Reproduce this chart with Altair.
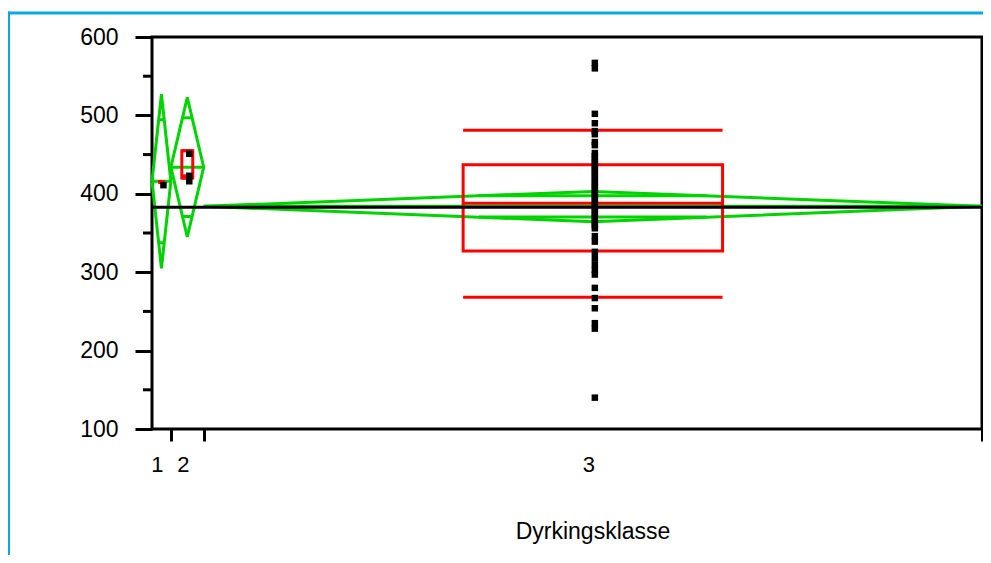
import math
import altair as alt
import pandas as pd
import numpy as np

# ---- data ----
groups = ["1", "2", "3"]
group_widths = [19, 33, 783]          # relative band widths (JMP: proportional to n)
means = [416, 434, 384]
ci_low = [305, 345, 364.5]
ci_high = [527, 523, 403]
q10 = [415, 420, 268]
q25 = [415, 420, 327]
medians = [415, 423, 388]
q75 = [415, 455, 437]
q90 = [415, 455, 481]
grand_mean = 383

g1_values = [411]
g2_values = [451, 423, 416]
g3_values = [567, 560, 502, 490, 480, 476, 466, 462, 452, 448, 444, 440, 436,
             432, 428, 424, 420, 416, 412, 408, 404, 400, 396, 392, 388, 384,
             380, 376, 372, 368, 364, 360, 356, 346, 339, 326, 318, 310, 303,
             297, 280, 267, 254, 235, 228, 140]

y_major = [100, 200, 300, 400, 500, 600]
y_minor = [150, 250, 350, 450, 550]

GREEN = "#00D400"
RED = "#FF0000"
BLUE = "#0AA8E2"
FONT = "Liberation Sans"

W, H = 830, 392
PAD = {"left": 144, "top": 29, "right": 1, "bottom": 126}

# ---- derived tables ----
starts = np.concatenate([[0], np.cumsum(group_widths)[:-1]])
ends = np.cumsum(group_widths)
centers = (starts + ends) / 2
total = float(ends[-1])

diam_rows = []
hline_rows = []
box_rows = []
for i, g in enumerate(groups):
    s, e, c = float(starts[i]), float(ends[i]), float(centers[i])
    m, lo, hi = means[i], ci_low[i], ci_high[i]
    for k, (xx, yy) in enumerate([(s, m), (c, hi), (e, m), (c, lo), (s, m)]):
        diam_rows.append({"g": g, "x": xx, "y": yy, "o": k})
    hline_rows.append({"g": g, "x": s, "x2": e, "y": m})
    half = (e - s) / 2
    frac = 1 - 1 / math.sqrt(2)
    d = (hi - m) / math.sqrt(2)
    for yy in (m + d, m - d):
        hline_rows.append({"g": g, "x": c - half * frac, "x2": c + half * frac, "y": yy})
    bl = s + (e - s) / 3
    br = s + 2 * (e - s) / 3
    box_rows.append({"g": g, "bl": bl, "br": br, "q10": q10[i], "q25": q25[i],
                     "med": medians[i], "q75": q75[i], "q90": q90[i]})

diam = pd.DataFrame(diam_rows)
hlines = pd.DataFrame(hline_rows)
boxes = pd.DataFrame(box_rows)
pts = pd.DataFrame(
    [{"g": "1", "x": float(centers[0]), "v": v} for v in g1_values]
    + [{"g": "2", "x": float(centers[1]), "v": v} for v in g2_values]
    + [{"g": "3", "x": float(centers[2]), "v": v} for v in g3_values]
)
labels = pd.DataFrame({"g": groups, "x": centers})
gm = pd.DataFrame({"x": [0.0], "x2": [total], "y": [grand_mean]})
minor = pd.DataFrame({"y": y_minor})

xs = alt.Scale(domain=[0, total], nice=False, zero=False)
ys = alt.Scale(domain=[100, 600], nice=False, zero=False)

X_AXIS = alt.Axis(values=[float(v) for v in ends], labels=False, tickSize=12,
                  tickWidth=3, tickColor="black", domain=False, grid=False, title=None)
Y_AXIS = alt.Axis(values=y_major, tickSize=17, tickWidth=3, tickColor="black",
                  domain=False, grid=False, title=None, labelFontSize=23,
                  labelFont=FONT, labelColor="black", labelPadding=17)


def X(f):
    return alt.X(f, scale=xs, axis=X_AXIS)


def Y(f):
    return alt.Y(f, scale=ys, axis=Y_AXIS)


minor_ticks = alt.Chart(minor).mark_rule(color="black", strokeWidth=3).encode(
    y=Y("y:Q"), x=alt.value(-9), x2=alt.value(-1),
)

diamonds = alt.Chart(diam).mark_line(color=GREEN, strokeWidth=3).encode(
    x=X("x:Q"), y=Y("y:Q"), detail="g:N", order="o:Q",
)

green_lines = alt.Chart(hlines).mark_rule(color=GREEN, strokeWidth=3).encode(
    x=X("x:Q"), x2="x2:Q", y=Y("y:Q"),
)

box_rect = alt.Chart(boxes).mark_rect(filled=False, stroke=RED, strokeWidth=3).encode(
    x=X("bl:Q"), x2="br:Q", y=Y("q25:Q"), y2="q75:Q",
)
whisk_hi = alt.Chart(boxes).mark_rule(color=RED, strokeWidth=3).encode(
    x=X("bl:Q"), x2="br:Q", y=Y("q90:Q"),
)
whisk_lo = alt.Chart(boxes).mark_rule(color=RED, strokeWidth=3).encode(
    x=X("bl:Q"), x2="br:Q", y=Y("q10:Q"),
)
med_line = alt.Chart(boxes).mark_rule(color=RED, strokeWidth=3).encode(
    x=X("bl:Q"), x2="br:Q", y=Y("med:Q"),
)

grand = alt.Chart(gm).mark_rule(color="black", strokeWidth=3).encode(
    x=X("x:Q"), x2="x2:Q", y=Y("y:Q"),
)

points = alt.Chart(pts).mark_square(color="black", size=42, opacity=1).encode(
    x=X("x:Q"), y=Y("v:Q"), xOffset=alt.value(2),
)

tick_labels = alt.Chart(labels).mark_text(
    fontSize=22, font=FONT, color="black", baseline="middle", align="center", dx=-4
).encode(
    x=X("x:Q"), y=alt.value(428), text="g:N",
)

title = alt.Chart(pd.DataFrame({"t": ["Dyrkingsklasse"]})).mark_text(
    fontSize=23, font=FONT, color="black", baseline="middle", align="center"
).encode(x=alt.value(441), y=alt.value(495), text="t:N")

blue_top = alt.Chart(pd.DataFrame({"a": [0]})).mark_rule(color=BLUE, strokeWidth=3).encode(
    x=alt.value(-144), x2=alt.value(W + PAD["right"]), y=alt.value(-24)
)
blue_left = alt.Chart(pd.DataFrame({"a": [0]})).mark_rule(color=BLUE, strokeWidth=3).encode(
    x=alt.value(-143.5), y=alt.value(-25.5), y2=alt.value(H + PAD["bottom"])
)

chart = alt.layer(
    minor_ticks, diamonds, green_lines,
    box_rect, whisk_hi, whisk_lo, med_line, grand,
    points, tick_labels, title, blue_top, blue_left,
).properties(
    width=W, height=H,
    autosize=alt.AutoSizeParams(type="none"),
    padding=PAD,
    background="white",
).configure_view(stroke="black", strokeWidth=3)

chart.save("out.html", embed_options={"renderer": "svg", "actions": False})
